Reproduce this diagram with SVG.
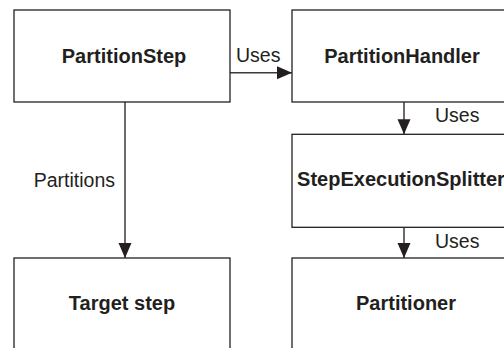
<svg xmlns="http://www.w3.org/2000/svg" width="504" height="348" viewBox="0 0 504 348">
<style>
.box{fill:#fff;stroke:#231f20;stroke-width:1.3}
.lbl{font-family:"Liberation Sans",Arial,sans-serif;font-weight:bold;font-size:20px;fill:#231f20;text-anchor:middle}
.edge{font-family:"Liberation Sans",Arial,sans-serif;font-size:19.5px;fill:#231f20}
.conn{stroke:#3a3a3a;stroke-width:1.5;fill:none}
</style>
<defs>
<marker id="ah" markerUnits="userSpaceOnUse" markerWidth="16" markerHeight="14" refX="15" refY="6.5" orient="auto">
<path d="M0,0 L15,6.5 L0,13 Z" fill="#231f20"/>
</marker>
</defs>
<g id="connectors">
<line class="conn" x1="230" y1="72.7" x2="292" y2="72.7" marker-end="url(#ah)"/>
<line class="conn" x1="125" y1="102" x2="125" y2="258" marker-end="url(#ah)"/>
<line class="conn" x1="404" y1="102" x2="404" y2="134.3" marker-end="url(#ah)"/>
<line class="conn" x1="404" y1="227.3" x2="404" y2="258" marker-end="url(#ah)"/>
<text class="edge" x="236" y="62">Uses</text>
<text class="edge" x="115" y="187.3" text-anchor="end">Partitions</text>
<text class="edge" x="435" y="122">Uses</text>
<text class="edge" x="435" y="247.7">Uses</text>
</g>
<g id="partitionStep">
<rect class="box" x="14" y="10" width="216" height="92"/>
<text class="lbl" x="124" y="62.7">PartitionStep</text>
</g>
<g id="partitionHandler">
<rect class="box" x="292" y="10" width="224" height="92"/>
<text class="lbl" x="402" y="62.7">PartitionHandler</text>
</g>
<g id="stepExecutionSplitter">
<rect class="box" x="292" y="134.3" width="224" height="93"/>
<text class="lbl" x="401" y="186">StepExecutionSplitter</text>
</g>
<g id="targetStep">
<rect class="box" x="14" y="258" width="216" height="94"/>
<text class="lbl" x="122" y="309.7">Target step</text>
</g>
<g id="partitioner">
<rect class="box" x="292" y="258" width="224" height="94"/>
<text class="lbl" x="406" y="309.7">Partitioner</text>
</g>
</svg>
